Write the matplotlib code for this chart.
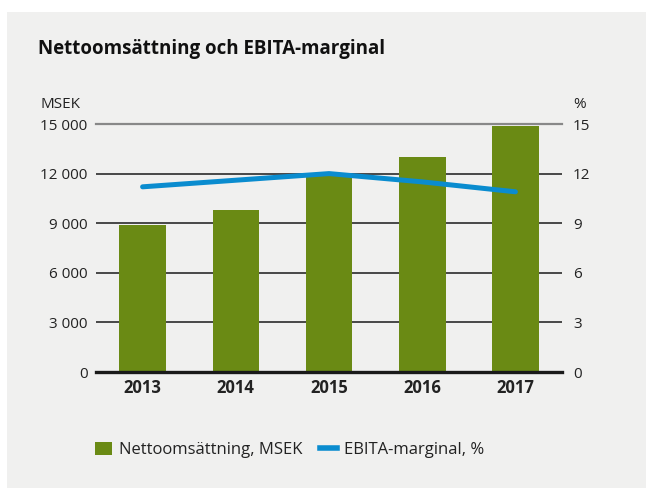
import matplotlib
matplotlib.use("Agg")
import matplotlib.pyplot as plt
from matplotlib.patches import Rectangle, Patch
from matplotlib.lines import Line2D

plt.rcParams['font.family'] = ['Open Sans', 'DejaVu Sans']

# data
years = ["2013", "2014", "2015", "2016", "2017"]
sales = [8900, 9800, 11900, 13000, 14900]        # MSEK
ebita = [11.2, 11.6, 12.0, 11.5, 10.9]           # %
left_ticks = [0, 3000, 6000, 9000, 12000, 15000]
left_labels = ["0", "3 000", "6 000", "9 000", "12 000", "15 000"]
right_ticks = [0, 3, 6, 9, 12, 15]

GREEN = "#6a8a14"
BLUE = "#0a8ccf"
BG = "#f0f0ef"
TXT = "#222222"
FS = 11

W, H = 646, 488
fig = plt.figure(figsize=(W / 100, H / 100), dpi=100, facecolor="white")

# grey panel
fig.patches.append(Rectangle((7 / W, 0), 1 - 7 / W, (H - 12) / H,
                             transform=fig.transFigure, facecolor=BG,
                             edgecolor="none", zorder=-10))

ax = fig.add_axes([96 / W, (H - 372) / H, (562 - 96) / W, (372 - 124) / H])
ax.set_facecolor("none")
x = range(len(years))
ax.bar(x, sales, width=0.5, color=GREEN, zorder=2)
ax.set_xlim(-0.5, 4.5)
ax.set_ylim(0, 15000)

# gridlines
for t in left_ticks[1:-1]:
    ax.axhline(t, color="#3a3a3a", lw=1.3, zorder=1)
ax.axhline(15000, color="#888888", lw=1.6, zorder=1, clip_on=False)
ax.axhline(0, color="#1a1a1a", lw=2.4, zorder=3, clip_on=False)

for s in ax.spines.values():
    s.set_visible(False)
ax.set_yticks(left_ticks)
ax.set_yticklabels(left_labels)
ax.set_xticks(list(x))
ax.set_xticklabels(years, fontweight="bold")
ax.tick_params(axis="y", length=0, pad=6, labelsize=FS, labelcolor=TXT)
ax.tick_params(axis="x", length=0, pad=5, labelsize=12, labelcolor=TXT)

ax2 = ax.twinx()
ax2.plot(x, ebita, color=BLUE, lw=3.6, solid_capstyle="round", zorder=4)
ax2.set_ylim(0, 15)
ax2.set_yticks(right_ticks)
for s in ax2.spines.values():
    s.set_visible(False)
ax2.tick_params(axis="y", length=0, pad=8, labelsize=FS, labelcolor=TXT)

# texts
fig.text(38 / W, 1 - 49 / H, "Nettoomsättning och EBITA-marginal",
         fontsize=13.5, fontweight="bold", color="#111111", va="center")
fig.text(40 / W, 1 - 104 / H, "MSEK", fontsize=FS, color=TXT, va="center")
fig.text(573 / W, 1 - 104 / H, "%", fontsize=FS, color=TXT, va="center")

handles = [Patch(facecolor=GREEN, edgecolor="none"),
           Line2D([], [], color=BLUE, lw=4)]
fig.legend(handles, ["Nettoomsättning, MSEK", "EBITA-marginal, %"],
           loc="center left", bbox_to_anchor=(95 / W, 1 - 450 / H),
           ncol=2, frameon=False, fontsize=12, handlelength=1.0,
           handleheight=0.85, handletextpad=0.45, columnspacing=1.05,
           borderpad=0, borderaxespad=0, labelcolor=TXT)

fig.savefig("out.png", dpi=100, facecolor="white")
